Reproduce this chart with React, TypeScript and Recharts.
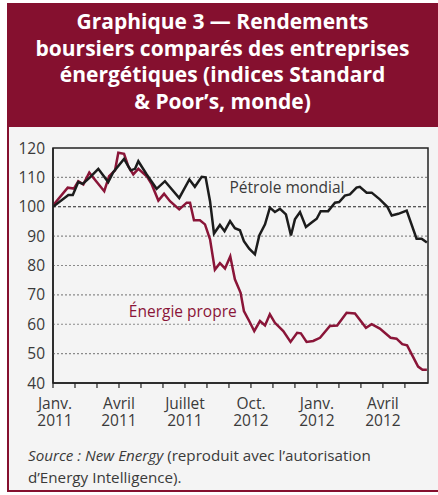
import React from "react";
import {
  LineChart,
  Line,
  XAxis,
  YAxis,
  ReferenceLine,
  ReferenceArea,
  ReferenceDot,
} from "recharts";

// Time axis in months since January 2011
const petroleMonths = [
  0, 0.7, 0.9, 1.15, 1.35, 1.68, 2.06, 2.51, 2.74, 3.23, 3.53, 3.73, 3.88, 4.26,
  4.71, 5.09, 5.74, 6.2, 6.45, 6.76, 6.94, 7.14, 7.32, 7.59, 7.8, 8.05, 8.27,
  8.5, 8.68, 8.92, 9.18, 9.38, 9.64, 9.86, 10.09, 10.32, 10.59, 10.82, 11.0,
  11.23, 11.5, 11.76, 11.99, 12.17, 12.51, 12.82, 13.01, 13.27, 13.5, 13.8,
  13.95, 14.26, 14.49, 14.86, 15.2, 15.4, 15.7, 16.08, 16.53, 16.76, 17.0,
];
const petroleValues = [
  100, 104, 104, 108.4, 107.8, 110, 112.9, 108.4, 111.8, 116.3, 112.4, 112.9,
  115.5, 111, 106.1, 108.7, 103, 109.3, 106.8, 110.2, 110, 101.9, 90.9, 93.8,
  91.7, 95.1, 92.7, 92, 88.3, 85.7, 83.8, 90.2, 94, 99.7, 98.2, 99.3, 97.4,
  90.2, 95.7, 98.2, 93.1, 94.6, 95.9, 98.5, 98.5, 101.4, 101.6, 103.8, 104.2,
  106.5, 106.8, 104.8, 104.8, 102.5, 100, 97, 97.6, 98.7, 89.1, 89.1, 87.8,
];

const energieMonths = [
  0, 0.67, 0.95, 1.15, 1.38, 1.65, 1.99, 2.33, 2.55, 2.82, 2.97, 3.23, 3.42,
  3.65, 3.88, 4.26, 4.49, 4.79, 5.05, 5.32, 5.74, 6.08, 6.23, 6.41, 6.68, 6.91,
  7.14, 7.36, 7.59, 7.82, 8.06, 8.27, 8.53, 8.68, 8.92, 9.15, 9.41, 9.64, 9.86,
  10.09, 10.47, 10.8, 11.1, 11.27, 11.53, 11.83, 12.14, 12.59, 12.92, 13.35,
  13.73, 14.23, 14.49, 14.86, 15.35, 15.62, 15.88, 16.1, 16.6, 16.8, 17.0,
];
const energieValues = [
  100.4, 106.5, 106.2, 108.7, 107.6, 111.6, 108.4, 105.3, 110.4, 112.4, 118.4,
  118, 113.8, 111, 112.9, 110.4, 107.6, 102.1, 104.4, 101.9, 99.1, 101.4, 101.4,
  95.4, 95.4, 94, 88.9, 78.6, 80.8, 79, 83.1, 75.3, 70.7, 64.5, 61.1, 57.7,
  61.1, 59.6, 63.4, 60.5, 57.7, 54, 57.1, 56.9, 54, 54.3, 55.4, 59.4, 59.6,
  63.9, 63.7, 58.8, 60, 58.5, 55.4, 55.1, 53.2, 52.8, 45.6, 44.5, 44.5,
];

const monthTicks = [0, 1, 2, 3, 4, 5, 6, 7, 8, 9, 10, 11, 12, 13, 14, 15, 16];
const xLabelMonths = [0, 3, 6, 9, 12, 15];
const xLabelTop = ["Janv.", "Avril", "Juillet", "Oct.", "Janv.", "Avril"];
const xLabelBottom = ["2011", "2011", "2011", "2012", "2012", "2012"];
const yTicks = [40, 50, 60, 70, 80, 90, 100, 110, 120];
const gridValues = [50, 60, 70, 80, 90, 110];

const titleLines = [
  "Graphique 3 — Rendements",
  "boursiers comparés des entreprises",
  "énergétiques (indices Standard",
  "& Poor’s, monde)",
];

const petroleData = petroleMonths.map((m, i) => ({ m, v: petroleValues[i] }));
const energieData = energieMonths.map((m, i) => ({ m, v: energieValues[i] }));

const RED = "#85102f";
const LINE_RED = "#8a1538";
const TEXT = "#3a3a3a";
const FONT = "'Open Sans', Lato, sans-serif";

const MonthTick = (props: any) => {
  const { x, y, payload } = props;
  const idx = xLabelMonths.indexOf(payload.value);
  if (idx < 0) return <g />;
  const cx = x + (idx === 0 ? 2 : 0);
  return (
    <text x={cx} y={y + 19} textAnchor="middle" fill={TEXT} fontSize={15.5} fontFamily={FONT}>
      <tspan x={cx}>{xLabelTop[idx]}</tspan>
      <tspan x={cx} dy={16.5}>
        {xLabelBottom[idx]}
      </tspan>
    </text>
  );
};

export default function App() {
  return (
    <div
      style={{
        position: "absolute",
        left: 0,
        top: 0,
        width: 438,
        height: 495,
        background: "#ffffff",
        fontFamily: FONT,
        overflow: "hidden",
      }}
    >
      {/* body panel */}
      <div
        style={{
          position: "absolute",
          left: 7,
          top: 3,
          width: 431,
          height: 489,
          background: "#f4f4f4",
          borderLeft: `2px solid ${RED}`,
          borderBottom: `2px solid ${RED}`,
          boxSizing: "border-box",
        }}
      />
      {/* title band */}
      <div
        style={{
          position: "absolute",
          left: 7,
          top: 3,
          width: 431,
          height: 124,
          background: RED,
          color: "#ffffff",
          fontWeight: 700,
          fontSize: 21,
          lineHeight: "26.5px",
          textAlign: "center",
          paddingTop: 5,
          boxSizing: "border-box",
        }}
      >
        {titleLines.map((t, i) => (
          <div key={i}>{t}</div>
        ))}
      </div>

      <div style={{ position: "absolute", left: 0, top: 0 }}>
        <LineChart
          width={438}
          height={495}
          margin={{ top: 148, right: 10, bottom: 72, left: 0 }}
        >
          <XAxis
            type="number"
            dataKey="m"
            domain={[0, 17.05]}
            allowDataOverflow
            ticks={monthTicks}
            interval={0}
            tickSize={5}
            tickMargin={2}
            height={40}
            axisLine={{ stroke: "#222", strokeWidth: 1.5 }}
            tickLine={{ stroke: "#222", strokeWidth: 1.2 }}
            tick={<MonthTick />}
          />
          <YAxis
            type="number"
            domain={[40, 120]}
            ticks={yTicks}
            interval={0}
            width={53}
            axisLine={{ stroke: "#222", strokeWidth: 1.5 }}
            tickLine={false}
            tick={{ fill: TEXT, fontSize: 15.5, fontFamily: FONT }}
          />
          {gridValues.map((g) => (
            <ReferenceLine
              key={g}
              y={g}
              stroke="#8a8a8a"
              strokeWidth={1.2}
              strokeDasharray="2 2"
            />
          ))}
          <ReferenceLine y={100} stroke="#222" strokeWidth={1.2} strokeDasharray="3 2" />
          <ReferenceArea
            x1={0}
            x2={17.05}
            y1={40}
            y2={120}
            fill="none"
            fillOpacity={0}
            stroke="#222"
            strokeWidth={1.5}
          />
          <Line
            data={energieData}
            dataKey="v"
            type="linear"
            stroke={LINE_RED}
            strokeWidth={2.5}
            dot={false}
            activeDot={false}
            isAnimationActive={false}
          />
          <Line
            data={petroleData}
            dataKey="v"
            type="linear"
            stroke="#1c1c1c"
            strokeWidth={2.5}
            dot={false}
            activeDot={false}
            isAnimationActive={false}
          />
          <ReferenceDot
            x={10.64}
            y={106.6}
            r={0}
            fill="none"
            stroke="none"
            label={{ value: "Pétrole mondial", position: "center", fill: TEXT, fontSize: 15.5, fontFamily: FONT }}
          />
          <ReferenceDot
            x={5.9}
            y={64.5}
            r={0}
            fill="none"
            stroke="none"
            label={{ value: "Énergie propre", position: "center", fill: LINE_RED, fontSize: 15.5, fontFamily: FONT }}
          />
        </LineChart>
      </div>

      {/* source */}
      <div
        style={{
          position: "absolute",
          left: 28,
          top: 444,
          fontSize: 15.2,
          lineHeight: "22px",
          color: TEXT,
          whiteSpace: "nowrap",
        }}
      >
        <div>
          <i>Source : New Energy</i> (reproduit avec l’autorisation
        </div>
        <div>d’Energy Intelligence).</div>
      </div>
    </div>
  );
}
